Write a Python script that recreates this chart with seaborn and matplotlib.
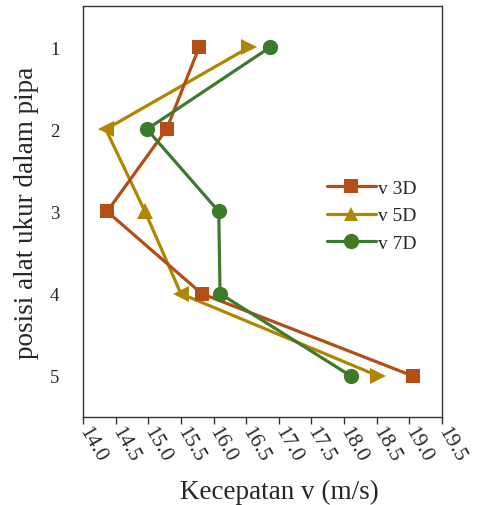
import matplotlib
matplotlib.use("Agg")
import matplotlib.pyplot as plt
from matplotlib.lines import Line2D
import seaborn as sns
import pandas as pd

# measurement positions along the pipe
positions = [1, 2, 3, 4, 5]
# velocities (m/s) at each position, three distances downstream
v_3d = [15.78, 15.28, 14.37, 15.82, 19.05]
v_5d = [16.55, 14.35, 14.95, 15.50, 18.52]
v_7d = [16.87, 14.98, 16.08, 16.10, 18.10]
series_names = ["v 3D", "v 5D", "v 7D"]
x_ticks = [14.0, 14.5, 15.0, 15.5, 16.0, 16.5, 17.0, 17.5, 18.0, 18.5, 19.0, 19.5]

colors = {"v 3D": "#B34E16", "v 5D": "#B08600", "v 7D": "#3E7A2C"}
# triangle orientation follows the line direction at each point
tri_markers = [">", "<", "^", "<", ">"]

sns.set_theme(style="white")
plt.rcParams["font.family"] = ["Liberation Serif", "DejaVu Serif"]

df = pd.DataFrame({
    "posisi": positions * 3,
    "v": v_3d + v_5d + v_7d,
    "seri": [s for s in series_names for _ in positions],
})

fig = plt.figure(figsize=(4.78, 5.06), dpi=100)
ax = fig.add_axes([0.1736, 0.1739, 0.7511, 0.8123])

lw = 2.3
for name in series_names:
    sub = df[df["seri"] == name]
    marker = {"v 3D": "s", "v 5D": None, "v 7D": "o"}[name]
    ms = {"v 3D": 10, "v 7D": 11}.get(name, 0)
    sns.lineplot(data=sub, x="v", y="posisi", sort=False, orient="y",
                 color=colors[name], linewidth=lw, marker=marker,
                 markersize=ms, markeredgewidth=0, ax=ax, legend=False,
                 zorder={"v 3D": 3, "v 5D": 2, "v 7D": 4}[name])
    if name == "v 5D":
        for xv, yv, m in zip(sub["v"], sub["posisi"], tri_markers):
            ax.plot([xv], [yv], marker=m, markersize=11.5, color=colors[name],
                    markeredgewidth=0, zorder=2.5)

ax.set_xlim(14.0, 19.5)
ax.set_ylim(5.5, 0.5)
ax.set_xticks(x_ticks)
ax.set_xticklabels([f"{t:.1f}" for t in x_ticks], rotation=-60, ha="left",
                   va="center", rotation_mode="anchor", fontsize=15.5)
ax.set_yticks(positions)
ax.set_yticklabels([str(p) for p in positions], fontsize=13.5)
ax.tick_params(axis="x", direction="out", length=5, width=1, color="#333333",
               pad=3, bottom=True)
ax.tick_params(axis="y", length=0, pad=17)
for sp in ax.spines.values():
    sp.set_color("#333333")
    sp.set_linewidth(1.0)

ax.set_xlabel("Kecepatan v (m/s)", fontsize=19.5, labelpad=4)
ax.xaxis.set_label_coords(0.546, -0.15)
ax.set_ylabel("posisi alat ukur dalam pipa", fontsize=19.5, labelpad=8)

handles = [
    Line2D([], [], color=colors["v 3D"], lw=lw, marker="s", markersize=10, markeredgewidth=0),
    Line2D([], [], color=colors["v 5D"], lw=lw, marker="^", markersize=10.5, markeredgewidth=0),
    Line2D([], [], color=colors["v 7D"], lw=lw, marker="o", markersize=11, markeredgewidth=0),
]
ax.legend(handles, series_names, loc="center left", bbox_to_anchor=(0.658, 0.49),
          frameon=False, fontsize=14, handlelength=2.5, handletextpad=0.1,
          labelspacing=0.5, borderaxespad=0)

fig.savefig("out.png", dpi=100, facecolor="white")
